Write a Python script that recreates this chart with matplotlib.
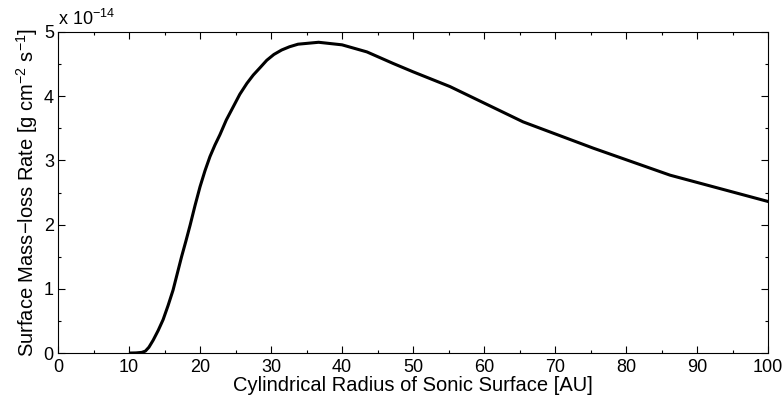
import numpy as np
import matplotlib
matplotlib.use("Agg")
import matplotlib.pyplot as plt
from matplotlib.ticker import MultipleLocator

plt.rcParams['font.family'] = ['Liberation Sans', 'DejaVu Sans']
plt.rcParams['mathtext.fontset'] = 'custom'
plt.rcParams['mathtext.rm'] = 'Liberation Sans'
plt.rcParams['mathtext.it'] = 'Liberation Sans:italic'

# radius of sonic surface [AU] and surface mass-loss rate [1e-14 g cm^-2 s^-1]
radius_au = [10.2, 11.0, 11.8, 12.3, 12.8, 13.4, 14.1, 14.8, 15.5, 16.2,
             16.8, 17.4, 18.0, 18.6, 19.3, 20.0, 20.7, 21.4, 22.1, 22.8,
             23.7, 24.7, 25.6, 26.6, 27.5, 28.5, 29.4, 30.4, 31.5, 32.6,
             33.8, 36.7, 40.0, 43.5, 47.2, 50.0, 55.2, 65.5, 75.4, 86.2,
             100.0]
mass_loss = [0, 0.002, 0.01, 0.03, 0.09, 0.2, 0.35, 0.52, 0.74, 0.98,
             1.24, 1.5, 1.74, 1.99, 2.30, 2.59, 2.84, 3.06, 3.24, 3.40,
             3.63, 3.84, 4.03, 4.2, 4.33, 4.45, 4.56, 4.65, 4.72, 4.77,
             4.81, 4.84, 4.80, 4.69, 4.51, 4.38, 4.15, 3.60, 3.19, 2.77,
             2.36]

fig = plt.figure(figsize=(7.82, 4.03), dpi=100)
ax = fig.add_axes([0.0742, 0.124, 0.908, 0.7966])

ax.plot(radius_au, mass_loss, color='black', linewidth=2.2)

ax.set_xlim(0, 100)
ax.set_ylim(0, 5)
ax.xaxis.set_major_locator(MultipleLocator(10))
ax.xaxis.set_minor_locator(MultipleLocator(5))
ax.yaxis.set_major_locator(MultipleLocator(1))
ax.yaxis.set_minor_locator(MultipleLocator(0.5))
ax.tick_params(which='both', direction='in', top=True, right=True,
               labelsize=13, width=0.8)
ax.tick_params(axis='x', which='major', pad=4.5)
ax.tick_params(axis='y', which='major', pad=3)
ax.tick_params(which='major', length=4.8)
ax.tick_params(which='minor', length=2.4)
for s in ax.spines.values():
    s.set_linewidth(0.8)

ax.set_xlabel('Cylindrical Radius of Sonic Surface [AU]', fontsize=14.5, labelpad=0)
ax.set_ylabel('Surface Mass\u2212loss Rate [g cm$^{-2}$ s$^{-1}$]', fontsize=14.5, labelpad=3)
ax.text(0.0, 1.01, r'x 10$^{-14}$', transform=ax.transAxes, fontsize=13,
        ha='left', va='bottom')

fig.savefig('out.png', dpi=100)
